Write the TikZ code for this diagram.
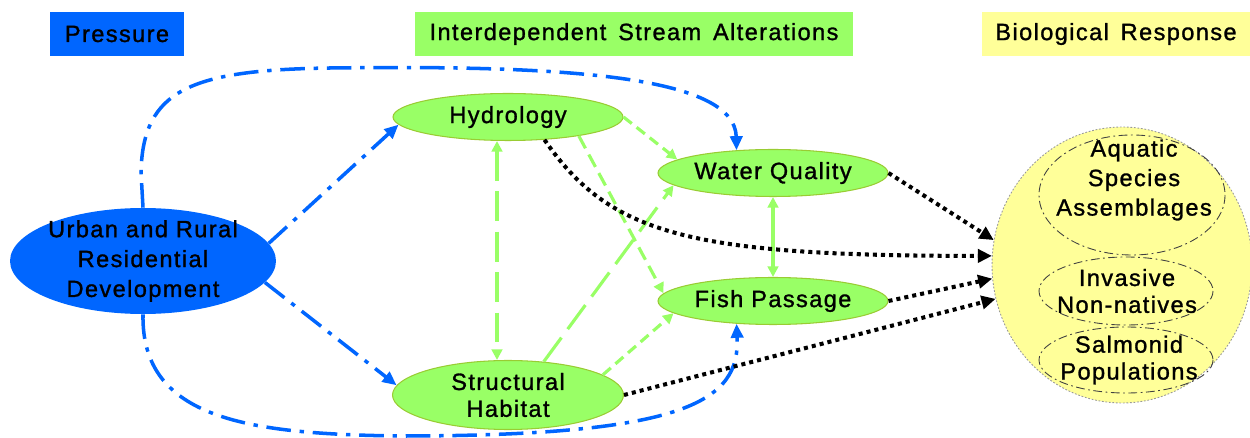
\documentclass[tikz,border=0pt]{standalone}
\usepackage{fontspec}
\setmainfont{Liberation Sans}[LetterSpace=6,FakeBold=1.2]
\usetikzlibrary{arrows.meta,shapes.geometric,calc}
\definecolor{pblue}{HTML}{0066FF}
\definecolor{lgreen}{HTML}{99FF66}
\definecolor{gborder}{HTML}{99CC33}
\definecolor{lyellow}{HTML}{FFFF99}
\tikzset{
  hdr/.style={minimum height=0.88cm, inner sep=0pt, text=black},
  gell/.style={ellipse, fill=lgreen, draw=gborder, line width=0.6pt, minimum width=4.6cm, minimum height=0.94cm, inner sep=0pt},
  lbl/.style={align=center, inner sep=0pt, text=black},
  inell/.style={draw=black!75, line width=0.5pt, dash pattern=on 5pt off 2pt on 1pt off 2pt},
  bl/.style={draw=pblue, line width=2pt, dash pattern=on 14pt off 5pt on 2.5pt off 5pt, -{Triangle[length=8pt,width=7pt]}},
  gone/.style={-{Triangle[length=6pt,width=6pt]}},
  gtwo/.style={{Triangle[length=6pt,width=6pt]}-{Triangle[length=6pt,width=6pt]}},
  glong/.style={draw=lgreen, line width=1.8pt, dash pattern=on 17pt off 6pt},
  gmed/.style={draw=lgreen, line width=1.8pt, dash pattern=on 8pt off 4pt},
  gshort/.style={draw=lgreen, line width=1.8pt, dash pattern=on 6pt off 3.5pt},
  gsolid/.style={draw=lgreen, line width=1.8pt},
  bk/.style={draw=black, line width=2.3pt, dash pattern=on 2.3pt off 2.3pt, -{Triangle[length=8pt,width=7.5pt]}},
}
\begin{document}
\begin{tikzpicture}[x=0.02cm, y=-0.02cm, font=\fontsize{13.4}{16}\selectfont]
\useasboundingbox (0,0) rectangle (1250,438);
% headers
\node[hdr, fill=pblue, minimum width=2.68cm] (hp) at (117,34) {Pressure};
\node[hdr, fill=lgreen, minimum width=8.76cm] (hi) at (634,34) {Interdependent\, Stream\, Alterations};
\node[hdr, fill=lyellow, minimum width=5.36cm] (hb) at (1116,34) {Biological\, Response};

% biological response circle
\node[ellipse, fill=lyellow, draw=black!40, line width=0.5pt, dash pattern=on 1pt off 1pt, minimum width=5.2cm, minimum height=5.52cm, inner sep=0pt] (bio) at (1122,265) {};
\draw[inell] (1132,195) ellipse (93 and 60);
\draw[inell] (1126,291) ellipse (87 and 34);
\draw[inell] (1126,360) ellipse (87 and 33);
\node[lbl, font=\fontsize{13.4}{16.8}\selectfont] (taq) at (1134,180) {Aquatic\\Species\\Assemblages};
\node[lbl, font=\fontsize{13.4}{15.3}\selectfont] (tin) at (1127,291) {Invasive\\Non-natives};
\node[lbl, font=\fontsize{13.4}{15.3}\selectfont] (tsa) at (1129,360) {Salmonid\\Populations};

% pressure node
\node[ellipse, fill=pblue, minimum width=5.32cm, minimum height=2.12cm, inner sep=0pt,
      label={[lbl, font=\fontsize{13.4}{17}\selectfont]center:Urban and Rural\\Residential\\Development}] (urb) at (143,261) {};

% stream alteration nodes
\node[gell, label={[lbl]center:Hydrology}] (hyd) at (508,117) {};
\node[gell, label={[lbl]center:Water Quality}] (wq) at (773,173) {};
\node[gell, label={[lbl]center:Fish Passage}] (fp) at (773,301) {};
\node[gell, minimum width=4.62cm, minimum height=1.38cm,
      label={[lbl, font=\fontsize{13.4}{15.3}\selectfont]center:Structural\\Habitat}] (sh) at (508,395) {};

% blue pressure connectors
\draw[bl] (urb.8) -- (hyd.184);
\draw[bl] (urb.-10) -- (sh.175);
\draw[bl] (urb.north) -- (141,172) .. controls (143,90) and (190,70) .. (330,68)
          .. controls (560,65) and (735,75) .. (wq.148);
\draw[bl] (urb.south) .. controls (141,420) and (250,434) .. (400,436)
          .. controls (690,436) and (740,400) .. (fp.-148);

% green interdependencies
\draw[glong, gtwo] ([xshift=-0.22cm]hyd.south) -- ([xshift=-0.22cm]sh.north);
\draw[gshort, gone] (hyd.east) -- (wq.172);
\draw[gmed, gone] (hyd.-15) -- (fp.176);
\draw[glong, gone] (sh.43) -- (wq.187);
\draw[gshort, gone] (sh.12) -- (fp.187);
\draw[gsolid, gtwo] (wq.south) -- (fp.north);

% black biological responses
\draw[bk] (wq.east) -- (bio.169);
\draw[bk] (hyd.-32) .. controls (610,235) and (690,256) .. (bio.176);
\draw[bk] (fp.east) -- (bio.186);
\draw[bk] (sh.east) -- (bio.195);
\end{tikzpicture}
\end{document}
